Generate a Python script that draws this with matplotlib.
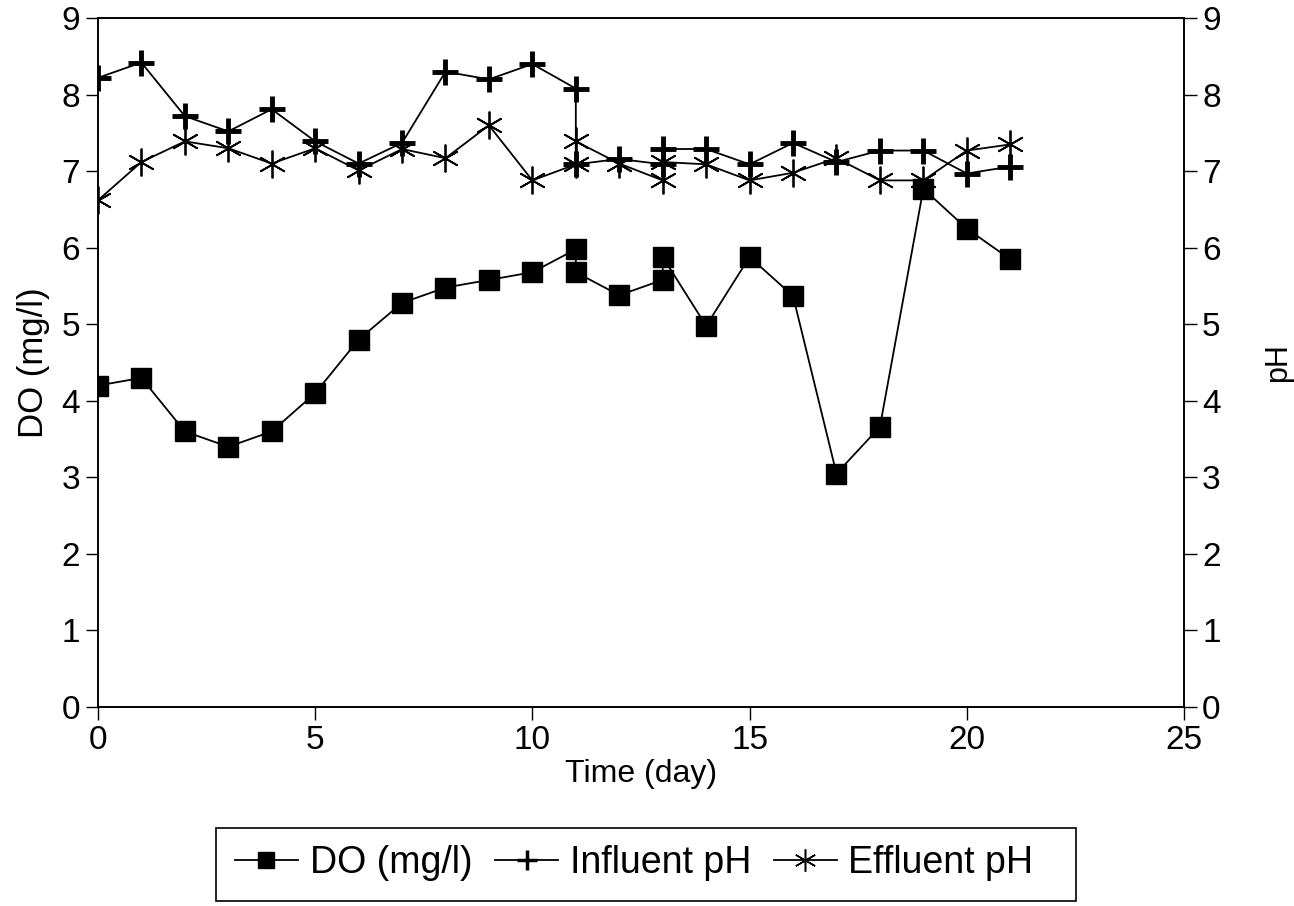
import matplotlib
matplotlib.use("Agg")
import matplotlib.pyplot as plt
from matplotlib.lines import Line2D
from matplotlib.patches import Rectangle

plt.rcParams['font.family'] = ['Liberation Sans Narrow', 'Liberation Sans', 'DejaVu Sans']

# days (duplicate readings on days 11 and 13)
days = [0, 1, 2, 3, 4, 5, 6, 7, 8, 9, 10, 11, 11, 12, 13, 13, 14, 15, 16, 17, 18, 19, 20, 21]

do_mgl = [4.2, 4.3, 3.6, 3.4, 3.6, 4.1, 4.8, 5.28, 5.48, 5.58, 5.68, 5.98, 5.68, 5.38,
          5.58, 5.88, 4.98, 5.88, 5.37, 3.05, 3.66, 6.77, 6.25, 5.85]
influent_ph = [8.22, 8.42, 7.72, 7.52, 7.81, 7.39, 7.1, 7.37, 8.3, 8.2, 8.4, 8.08, 7.09, 7.16,
               7.09, 7.29, 7.29, 7.09, 7.37, 7.12, 7.27, 7.27, 6.97, 7.06]
effluent_ph = [6.62, 7.12, 7.39, 7.3, 7.1, 7.3, 7.01, 7.29, 7.17, 7.6, 6.88, 7.09, 7.39, 7.1,
               6.88, 7.12, 7.09, 6.88, 6.98, 7.17, 6.88, 6.88, 7.27, 7.35]

x_ticks = [0, 5, 10, 15, 20, 25]
y_ticks = list(range(10))

fig = plt.figure(figsize=(12.94, 9.06), dpi=100)
ax = fig.add_axes([0.0757, 0.2196, 0.8393, 0.7604])
ax2 = ax.twinx()

ax.plot(days, do_mgl, color='black', lw=1.3, marker='s', ms=14)
ax2.plot(days, influent_ph, color='black', lw=1.3, marker='+', ms=19, mew=3.5)
ax2.plot(days, effluent_ph, color='black', lw=1.3, marker=(6, 2, 0), ms=20, mew=1.3)

for a in (ax, ax2):
    a.set_ylim(0, 9)
    a.set_yticks(y_ticks)
    a.tick_params(labelsize=24, length=9, width=1, direction='out', pad=4)
    for s in a.spines.values():
        s.set_linewidth(1.2)
ax.set_xlim(0, 25)
ax.set_xticks(x_ticks)

ax.set_xlabel('Time (day)', fontsize=23, labelpad=2)
ax.set_ylabel('DO (mg/l)', fontsize=25, labelpad=8, family=['Liberation Sans', 'DejaVu Sans'])
ax2.set_ylabel('pH', fontsize=22)
# right label sits close to the edge as in the source
ax2.yaxis.set_label_coords(1.073, 0.5)

# legend box
fig.patches.append(Rectangle((216 / 1294, 1 - 901 / 906), 860 / 1294, 73 / 906,
                             transform=fig.transFigure, fill=False, edgecolor='black', lw=1.2))
handles = [
    Line2D([], [], color='black', lw=1.3, marker='s', ms=11),
    Line2D([], [], color='black', lw=1.3, marker='+', ms=14, mew=2.5),
    Line2D([], [], color='black', lw=1.3, marker=(6, 2, 0), ms=16, mew=1.1),
]
fig.legend(handles, ['DO (mg/l)', 'Influent pH', 'Effluent pH'], loc='center',
           bbox_to_anchor=(634 / 1294, 1 - 863 / 906), ncol=3, frameon=False,
           fontsize=27, handlelength=1.7, handletextpad=0.3, columnspacing=0.6,
           borderpad=0)

fig.savefig('out.png', dpi=100)
